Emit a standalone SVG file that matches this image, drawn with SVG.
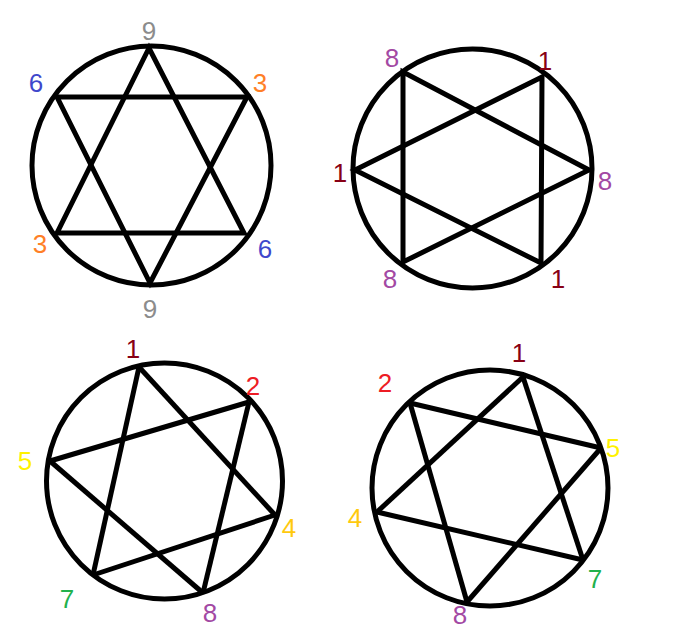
<svg xmlns="http://www.w3.org/2000/svg" width="686" height="636" viewBox="0 0 686 636">
<style>
.ring{fill:none;stroke:#000;stroke-width:5}
.ln{fill:none;stroke:#000;stroke-width:5;stroke-linejoin:miter;stroke-linecap:butt}
text{font-family:"Liberation Sans","DejaVu Sans",sans-serif;font-size:26px;text-anchor:middle}
.gray{fill:#8c8c8c}.blue{fill:#3f48cc}.orange{fill:#ff7f27}
.purple{fill:#a349a4}.dred{fill:#880015}.red{fill:#ed1c24}
.yellow{fill:#fff200}.gold{fill:#ffc90e}.green{fill:#22b14c}
</style>
<rect width="686" height="636" fill="#fff"/>
<g id="diagram-369">
<circle class="ring" cx="151.5" cy="165.5" r="119.5"/>
<g id="connectors-369">
<polygon class="ln" points="149,48 57,233 244,233"/>
<polygon class="ln" points="150,283 57,97 247,97"/>
</g>
<text class="gray" x="149" y="40">9</text>
<text class="blue" x="36" y="92">6</text>
<text class="orange" x="260" y="92">3</text>
<text class="orange" x="40" y="253">3</text>
<text class="blue" x="265" y="258">6</text>
<text class="gray" x="150" y="318">9</text>
</g>
<g id="diagram-18">
<circle class="ring" cx="472.5" cy="168.5" r="119.5"/>
<g id="connectors-18">
<polygon class="ln" points="403,72 589,170 403,262"/>
<polygon class="ln" points="542,77 355,170 541,263"/>
</g>
<text class="purple" x="392" y="67">8</text>
<text class="dred" x="545" y="70">1</text>
<text class="dred" x="340" y="182">1</text>
<text class="purple" x="605" y="190">8</text>
<text class="purple" x="390" y="288">8</text>
<text class="dred" x="558" y="288">1</text>
</g>
<g id="diagram-124578-a">
<circle class="ring" cx="164.5" cy="481" r="118"/>
<g id="connectors-a">
<line class="ln" x1="139" y1="367" x2="93" y2="575"/>
<line class="ln" x1="139" y1="367" x2="275" y2="515"/>
<line class="ln" x1="249" y1="402" x2="50" y2="461"/>
<line class="ln" x1="249" y1="402" x2="203" y2="593"/>
<line class="ln" x1="50" y1="461" x2="203" y2="593"/>
<line class="ln" x1="275" y1="515" x2="93" y2="575"/>
</g>
<text class="dred" x="133" y="358">1</text>
<text class="red" x="253" y="395">2</text>
<text class="yellow" x="25" y="470">5</text>
<text class="gold" x="289" y="537">4</text>
<text class="green" x="67" y="608">7</text>
<text class="purple" x="210" y="622">8</text>
</g>
<g id="diagram-124578-b">
<circle class="ring" cx="490" cy="488" r="118"/>
<g id="connectors-b">
<line class="ln" x1="523" y1="377" x2="377" y2="512"/>
<line class="ln" x1="523" y1="377" x2="583" y2="560"/>
<line class="ln" x1="410" y1="403" x2="601" y2="448"/>
<line class="ln" x1="410" y1="403" x2="467" y2="602"/>
<line class="ln" x1="601" y1="448" x2="467" y2="602"/>
<line class="ln" x1="377" y1="512" x2="583" y2="560"/>
</g>
<text class="dred" x="519" y="362">1</text>
<text class="red" x="385" y="392">2</text>
<text class="yellow" x="613" y="457">5</text>
<text class="gold" x="355" y="527">4</text>
<text class="green" x="595" y="588">7</text>
<text class="purple" x="460" y="624">8</text>
</g>
</svg>
